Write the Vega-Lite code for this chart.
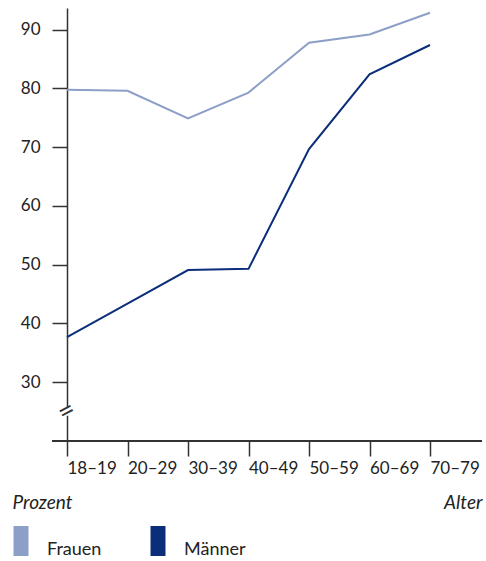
{
  "$schema": "https://vega.github.io/schema/vega-lite/v6.json",
  "width": 430,
  "height": 433,
  "autosize": "none",
  "padding": {"left": 52, "top": 8, "right": 4, "bottom": 120},
  "config": {
    "view": {"stroke": null},
    "font": "Lato",
    "axis": {"domainColor": "#333", "tickColor": "#333", "labelColor": "#222", "labelFont": "Lato", "labelFontSize": 17, "grid": false, "domainWidth": 1.5, "tickWidth": 1.5}
  },
  "datasets": {
    "lines": [
      {"Alter": "18–19", "Geschlecht": "Frauen", "Prozent": 79.8},
      {"Alter": "20–29", "Geschlecht": "Frauen", "Prozent": 79.6},
      {"Alter": "30–39", "Geschlecht": "Frauen", "Prozent": 74.9},
      {"Alter": "40–49", "Geschlecht": "Frauen", "Prozent": 79.3},
      {"Alter": "50–59", "Geschlecht": "Frauen", "Prozent": 87.8},
      {"Alter": "60–69", "Geschlecht": "Frauen", "Prozent": 89.2},
      {"Alter": "70–79", "Geschlecht": "Frauen", "Prozent": 92.9},
      {"Alter": "18–19", "Geschlecht": "Männer", "Prozent": 37.7},
      {"Alter": "20–29", "Geschlecht": "Männer", "Prozent": 43.4},
      {"Alter": "30–39", "Geschlecht": "Männer", "Prozent": 49.1},
      {"Alter": "40–49", "Geschlecht": "Männer", "Prozent": 49.3},
      {"Alter": "50–59", "Geschlecht": "Männer", "Prozent": 69.7},
      {"Alter": "60–69", "Geschlecht": "Männer", "Prozent": 82.4},
      {"Alter": "70–79", "Geschlecht": "Männer", "Prozent": 87.4}
    ],
    "brk": [{"Alter": "18–19", "lo": 24.3, "hi": 25.6, "mid": 24.95, "sym": "="}]
  },
  "layer": [
    {
      "data": {"name": "lines"},
      "mark": {"type": "rule", "color": "#333", "strokeWidth": 1.5},
      "encoding": {"y": {"datum": 20, "type": "quantitative", "scale": {"domain": [20, 93.7], "nice": false, "zero": false}}}
    },
    {
      "data": {"name": "lines"},
      "mark": {"type": "line", "strokeWidth": 2},
      "encoding": {
        "x": {"field": "Alter", "type": "ordinal", "sort": null,
          "scale": {"type": "point", "range": [15, 378], "padding": 0},
          "axis": {"domain": false, "tickSize": 15, "labelAlign": "left", "labelPadding": 4, "labelAngle": 0,
            "title": "Alter", "titleFont": "Lato", "titleFontStyle": "italic", "titleFontWeight": "normal", "titleFontSize": 19, "titleColor": "#222",
            "titleAnchor": "end", "titleAlign": "right", "titleX": 430, "titleY": 67, "titleBaseline": "alphabetic"}},
        "y": {"field": "Prozent", "type": "quantitative",
          "scale": {"domain": [20, 93.7], "nice": false, "zero": false},
          "axis": {"values": [30, 40, 50, 60, 70, 80, 90], "offset": -15, "tickSize": 15, "labelPadding": 12,
            "title": "Prozent", "titleFont": "Lato", "titleFontStyle": "italic", "titleFontWeight": "normal", "titleFontSize": 19, "titleColor": "#222",
            "titleAngle": 0, "titleAlign": "left", "titleX": -55, "titleY": 500, "titleBaseline": "alphabetic"}},
        "color": {"field": "Geschlecht", "type": "nominal",
          "scale": {"domain": ["Frauen", "Männer"], "range": ["#8c9fc6", "#0b2e7b"]},
          "legend": {"title": null, "orient": "none", "direction": "horizontal", "legendX": -40, "legendY": 524,
            "symbolType": "M-1,-2H1V2H-1Z", "symbolSize": 225, "labelOffset": 17, "columnPadding": 47,
            "labelFontSize": 18, "labelFont": "Lato", "labelColor": "#222", "labelBaseline": "top",
            "encode": {"symbols": {"update": {"fill": {"scale": "color", "field": "value"}, "fillOpacity": {"value": 1}, "strokeWidth": {"value": 0}}}}}}
      }
    },
    {
      "data": {"name": "brk"},
      "mark": {"type": "rule", "color": "white", "strokeWidth": 4},
      "encoding": {
        "x": {"field": "Alter", "type": "ordinal"},
        "y": {"field": "lo", "type": "quantitative"},
        "y2": {"field": "hi"}
      }
    },
    {
      "data": {"name": "brk"},
      "mark": {"type": "text", "fontSize": 28, "angle": -28, "color": "#333", "baseline": "middle", "align": "center", "font": "Lato"},
      "encoding": {
        "x": {"field": "Alter", "type": "ordinal"},
        "y": {"field": "mid", "type": "quantitative"},
        "text": {"field": "sym"}
      }
    }
  ]
}
